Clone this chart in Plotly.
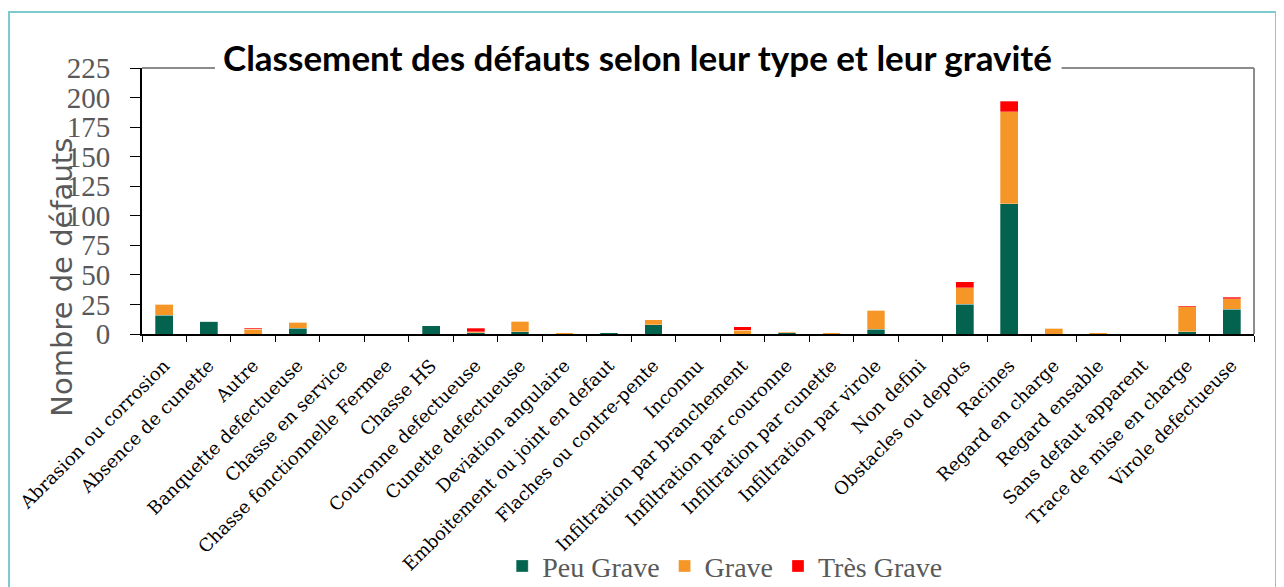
import plotly.graph_objects as go

# catégories de défauts
categories = [
    "Abrasion ou corrosion", "Absence de cunette", "Autre", "Banquette defectueuse",
    "Chasse en service", "Chasse fonctionnelle Fermee", "Chasse HS", "Couronne defectueuse",
    "Cunette defectueuse", "Deviation angulaire", "Emboitement ou joint en defaut",
    "Flaches ou contre-pente", "Inconnu", "Infiltration par branchement",
    "Infiltration par couronne", "Infiltration par cunette", "Infiltration par virole",
    "Non defini", "Obstacles ou depots", "Racines", "Regard en charge", "Regard ensable",
    "Sans defaut apparent", "Trace de mise en charge", "Virole defectueuse",
]

# nombre de défauts par gravité
peu_grave = [16, 11, 0, 5, 0, 0, 7, 1, 2, 0, 1, 8, 0, 0, 1, 0, 4, 0, 25, 110, 0, 0, 0, 2, 21]
grave = [9, 0, 4, 5, 0, 0, 0, 1, 9, 1, 0, 4, 0, 3, 1, 1, 16, 0, 14, 78, 5, 1, 0, 21, 9]
tres_grave = [0, 0, 1, 0, 0, 0, 0, 3, 0, 0, 0, 0, 0, 3, 0, 0, 0, 0, 5, 9, 0, 0, 0, 1, 1]

y_ticks = [0, 25, 50, 75, 100, 125, 150, 175, 200, 225]

series = [
    ("Peu Grave", peu_grave, "#03634f"),
    ("Grave", grave, "#f59626"),
    ("Très Grave", tres_grave, "#ff0000"),
]

fig = go.Figure()
for nom, valeurs, couleur in series:
    fig.add_trace(go.Bar(
        x=categories, y=valeurs, name=nom,
        marker=dict(color=couleur, line=dict(color="rgba(255,255,255,0.5)", width=0.6)),
    ))

serif = "Liberation Serif"
gris = "#595959"

fig.update_layout(
    barmode="stack",
    bargap=0.6,
    width=1276, height=587,
    margin=dict(l=134, r=30, t=60, b=261),
    plot_bgcolor="white",
    paper_bgcolor="white",
    showlegend=True,
    legend=dict(
        orientation="h", x=0.524, xanchor="center",
        yref="container", y=0.049, yanchor="middle",
        font=dict(family=serif, size=28, color=gris),
        bgcolor="rgba(0,0,0,0)",
        traceorder="normal",
    ),
    xaxis=dict(
        tickangle=-45,
        tickfont=dict(family="DejaVu Serif", size=18, color="black"),
        showline=True, linecolor="black", linewidth=2,
        ticks="outside", tickson="boundaries", ticklen=6, tickcolor="black",
        ticklabelstandoff=12,
        showgrid=False, automargin=False,
    ),
    yaxis=dict(
        range=[0, 225], tickvals=y_ticks,
        tickfont=dict(family=serif, size=29, color=gris),
        showline=True, linecolor="black", linewidth=2,
        ticks="outside", ticklen=10, tickcolor="black",
        ticklabelstandoff=14,
        showgrid=False, zeroline=False, automargin=False,
    ),
    annotations=[
        dict(
            text="<b>Classement des défauts selon leur type et leur gravité</b>",
            x=0.446, y=1.041, xref="paper", yref="paper",
            xanchor="center", yanchor="middle", showarrow=False,
            font=dict(family="Lato", size=35, color="black"),
        ),
        dict(
            text="Nombre de défauts",
            x=-0.072, y=0.215, xref="paper", yref="paper",
            xanchor="center", yanchor="middle", showarrow=False, textangle=-90,
            font=dict(family="DejaVu Sans", size=29, color=gris),
        ),
    ],
    shapes=[
        # cadre gris du graphique (interrompu par le titre)
        dict(type="line", xref="paper", yref="paper", x0=0, x1=0.0656, y0=1, y1=1,
             line=dict(color="#8c8c8c", width=2)),
        dict(type="line", xref="paper", yref="paper", x0=0.827, x1=1, y0=1, y1=1,
             line=dict(color="#8c8c8c", width=2)),
        dict(type="line", xref="paper", yref="paper", x0=1, x1=1, y0=0, y1=1,
             line=dict(color="#8c8c8c", width=2)),
        # bordure turquoise extérieure
        dict(type="rect", xref="paper", yref="paper", x0=-0.1196, x1=1.0198, y0=-1.2, y1=1.2105,
             line=dict(color="#7ecbcf", width=2)),
    ],
)

fig.write_html("out.html")
